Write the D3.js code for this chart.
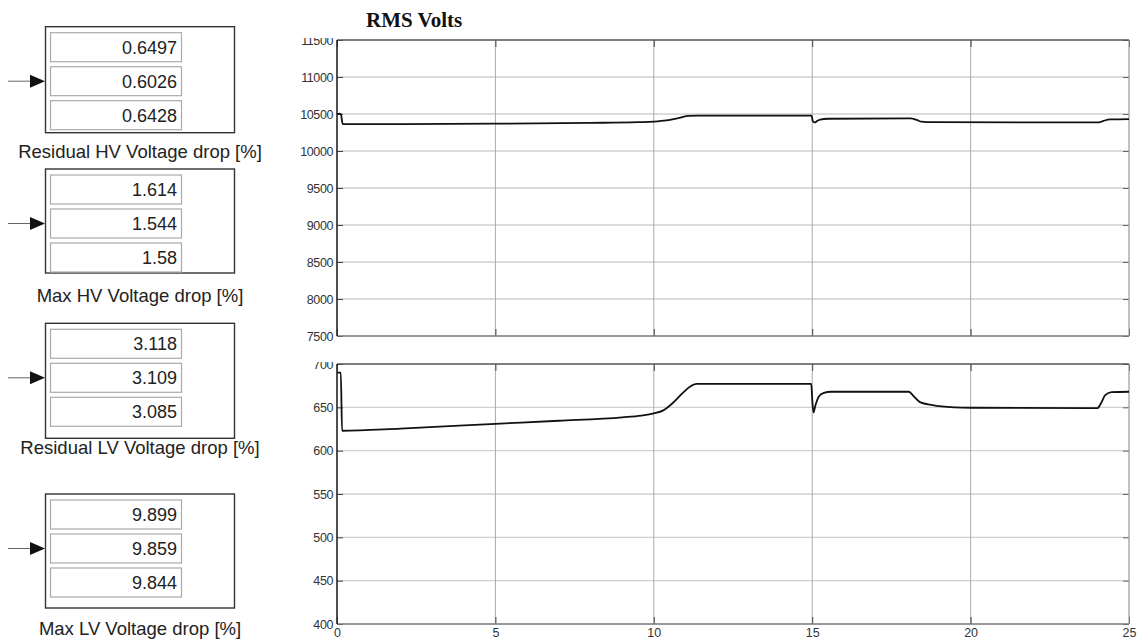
<!DOCTYPE html>
<html>
<head>
<meta charset="utf-8">
<script src="https://cdn.jsdelivr.net/npm/d3@7"></script>
<style>
  body { margin: 0; background: #fff; }
  svg { display: block; }
</style>
</head>
<body>
<div class="canvas"></div>
<script>
// display blocks on the left
var blockLabels = ["Residual HV Voltage drop [%]", "Max HV Voltage drop [%]",
                   "Residual LV Voltage drop [%]", "Max LV Voltage drop [%]"];
var blockValues = [["0.6497", "0.6026", "0.6428"],
                   ["1.614", "1.544", "1.58"],
                   ["3.118", "3.109", "3.085"],
                   ["9.899", "9.859", "9.844"]];

// scope traces: [time s, RMS volts]
var hvTrace = [[0,10500],[0.08,10506],[0.12,10500],[0.18,10365],[2,10364],[5,10369],[8,10380],
  [9.5,10390],[10,10397],[10.4,10413],[10.8,10448],[11.1,10474],[11.4,10478],[14.98,10478],
  [15.02,10402],[15.08,10386],[15.15,10404],[15.25,10424],[15.5,10436],[18.1,10440],
  [18.3,10420],[18.45,10396],[18.8,10389],[24.05,10387],[24.2,10408],[24.4,10427],[25,10432]];
var lvTrace = [[0,690],[0.12,690],[0.16,623],[2,625.5],[5,631],[7,634.5],[9,638.5],[9.6,640.5],
  [10,643],[10.3,646.5],[10.6,655],[10.9,666],[11.15,674],[11.35,677],[14.97,677],[15.0,660],
  [15.04,644],[15.1,652],[15.2,662],[15.35,666.5],[15.6,668],[18.05,668],[18.2,663],[18.4,656],
  [18.8,652.5],[19.5,650],[20,649.5],[24.0,649],[24.12,655],[24.25,664],[24.45,667.5],[25,668]];

var xTicks = [0, 5, 10, 15, 20, 25];
var hvTicks = [7500, 8000, 8500, 9000, 9500, 10000, 10500, 11000, 11500];
var lvTicks = [400, 450, 500, 550, 600, 650, 700];
var titleText = "RMS Volts";

var svg = d3.select(".canvas").append("svg")
  .attr("width", 1137).attr("height", 639);

var sans = "'Liberation Sans', Arial, sans-serif";

// ---- left blocks
var blockTop = [26.7, 169, 323.3, 494];
var blockH = [106, 104, 115, 114];
var labelY = [158, 302, 454, 635];

blockLabels.forEach(function(lab, i){
  var g = svg.append("g");
  g.append("rect")
    .attr("x", 45.5).attr("y", blockTop[i])
    .attr("width", 189).attr("height", blockH[i])
    .attr("fill", "none").attr("stroke", "#333").attr("stroke-width", 1.4);
  blockValues[i].forEach(function(v, j){
    var ry = blockTop[i] + 6 + j * 34;
    g.append("rect")
      .attr("x", 50.5).attr("y", ry)
      .attr("width", 131).attr("height", 29)
      .attr("fill", "#fff").attr("stroke", "#aaa").attr("stroke-width", 1.2);
    g.append("text")
      .attr("x", 177).attr("y", ry + 21)
      .attr("text-anchor", "end")
      .attr("font-family", sans).attr("font-size", "18px").attr("fill", "#222")
      .text(v);
  });
  var ay = blockTop[i] + 6 + 34 + 14.5;
  g.append("line")
    .attr("x1", 8).attr("x2", 32).attr("y1", ay).attr("y2", ay)
    .attr("stroke", "#666").attr("stroke-width", 1);
  g.append("path")
    .attr("d", "M30," + (ay - 6.5) + "L45," + ay + "L30," + (ay + 6.5) + "Z")
    .attr("fill", "#111");
  g.append("text")
    .attr("x", 140).attr("y", labelY[i])
    .attr("text-anchor", "middle")
    .attr("font-family", sans).attr("font-size", "18.5px").attr("fill", "#222")
    .text(lab);
});

// ---- scope panels
var PL = 337, PR = 1129;
var x = d3.scaleLinear().domain([0, 25]).range([PL, PR]);

function panel(top, bottom, ticks, data, showX, id){
  var y = d3.scaleLinear().domain([ticks[0], ticks[ticks.length - 1]]).range([bottom, top]);
  var g = svg.append("g");

  // grid
  g.selectAll(".hg").data(ticks.slice(1, -1)).enter().append("line")
    .attr("x1", PL).attr("x2", PR)
    .attr("y1", function(d){ return y(d); }).attr("y2", function(d){ return y(d); })
    .attr("stroke", "#cfcfcf").attr("stroke-width", 1.3);
  g.selectAll(".vg").data(xTicks.slice(1, -1)).enter().append("line")
    .attr("x1", function(d){ return x(d); }).attr("x2", function(d){ return x(d); })
    .attr("y1", top).attr("y2", bottom)
    .attr("stroke", "#aaa").attr("stroke-width", 1);

  // clip for the cut-off top label (in the axis group's own coords)
  svg.append("clipPath").attr("id", "clip" + id)
    .append("rect").attr("x", -PL).attr("y", top - 2).attr("width", PL + 10).attr("height", bottom - top + 20);

  var ya = g.append("g")
    .attr("transform", "translate(" + PL + ",0)")
    .attr("clip-path", "url(#clip" + id + ")")
    .call(d3.axisLeft(y).tickValues(ticks).tickSize(-6).tickPadding(4).tickFormat(d3.format("d")));
  ya.select(".domain").remove();
  ya.selectAll("line").attr("stroke", "#444");
  ya.selectAll("text").attr("font-family", sans).attr("font-size", "12.5px").attr("fill", "#333")
    .attr("letter-spacing", "-0.4px");

  var yr = g.append("g")
    .attr("transform", "translate(" + PR + ",0)")
    .call(d3.axisRight(y).tickValues(ticks).tickSize(-6).tickFormat(""));
  yr.select(".domain").remove();
  yr.selectAll("line").attr("stroke", "#666");

  var xb = g.append("g")
    .attr("transform", "translate(0," + bottom + ")")
    .call(d3.axisBottom(x).tickValues(xTicks).tickSize(-7).tickPadding(4)
      .tickFormat(showX ? d3.format("d") : ""));
  xb.select(".domain").remove();
  xb.selectAll("line").attr("stroke", "#444");
  xb.selectAll("text").attr("font-family", sans).attr("font-size", "12.5px").attr("fill", "#333");

  var xt = g.append("g")
    .attr("transform", "translate(0," + top + ")")
    .call(d3.axisTop(x).tickValues(xTicks).tickSize(-7).tickFormat(""));
  xt.select(".domain").remove();
  xt.selectAll("line").attr("stroke", "#444");

  // box
  g.append("line").attr("x1", PL).attr("x2", PR).attr("y1", top).attr("y2", top)
    .attr("stroke", "#555").attr("stroke-width", 1.4);
  g.append("line").attr("x1", PL).attr("x2", PR).attr("y1", bottom).attr("y2", bottom)
    .attr("stroke", "#777").attr("stroke-width", 1.4);
  g.append("line").attr("x1", PR).attr("x2", PR).attr("y1", top).attr("y2", bottom)
    .attr("stroke", "#999").attr("stroke-width", 1.2);
  g.append("line").attr("x1", PL).attr("x2", PL).attr("y1", top).attr("y2", bottom)
    .attr("stroke", "#222").attr("stroke-width", 1.6);

  // trace
  g.append("path")
    .datum(data)
    .attr("d", d3.line().curve(d3.curveMonotoneX)
      .x(function(d){ return x(d[0]); }).y(function(d){ return y(d[1]); }))
    .attr("fill", "none").attr("stroke", "#111").attr("stroke-width", 1.8)
    .attr("stroke-linejoin", "round");
}

panel(40, 336, hvTicks, hvTrace, false, "hv");
panel(364, 624, lvTicks, lvTrace, true, "lv");

svg.append("text")
  .attr("x", 366).attr("y", 27)
  .attr("font-family", "'Liberation Serif', 'Times New Roman', serif")
  .attr("font-weight", "bold").attr("font-size", "21px").attr("fill", "#111")
  .text(titleText);
</script>
</body>
</html>
